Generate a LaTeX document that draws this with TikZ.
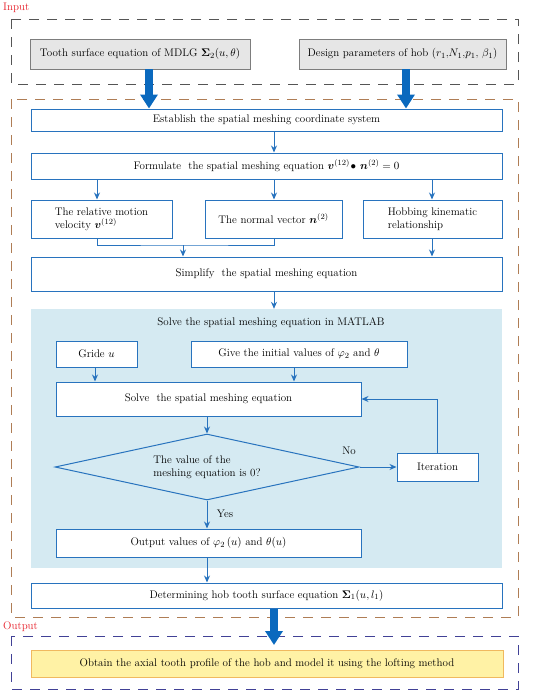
\documentclass[tikz,border=0pt]{standalone}
\usepackage{amsmath,bm}
\usetikzlibrary{arrows.meta,shapes.geometric,calc}
\definecolor{boxblue}{RGB}{40,115,190}
\definecolor{bigblue}{RGB}{10,105,190}
\definecolor{lightbg}{RGB}{213,234,242}
\definecolor{grayfill}{RGB}{230,230,230}
\definecolor{grayline}{RGB}{125,125,125}
\definecolor{inputdash}{RGB}{85,85,85}
\definecolor{browndash}{RGB}{175,125,85}
\definecolor{navydash}{RGB}{65,65,150}
\definecolor{yellowfill}{RGB}{255,242,165}
\definecolor{yellowline}{RGB}{240,185,95}
\definecolor{redlabel}{RGB}{230,30,40}
\newcommand{\mainfs}{\fontsize{11}{13}\selectfont}
\begin{document}
\begin{tikzpicture}[x=1pt,y=-1pt,
  box/.style={draw=boxblue, line width=1pt, fill=white, inner sep=2pt, font=\mainfs},
  graybox/.style={draw=grayline, line width=0.9pt, fill=grayfill, inner sep=2pt, font=\mainfs},
  yellowbox/.style={draw=yellowline, line width=1pt, fill=yellowfill, inner sep=2pt, font=\mainfs},
  dashframe/.style={line width=1pt, dash pattern=on 10pt off 8pt},
  arr/.style={draw=boxblue, line width=1pt, -{Stealth[length=7pt,width=6pt]}},
  plainline/.style={draw=boxblue, line width=1pt},
  bigarrow/.style={draw=bigblue, line width=8pt, -{Triangle[length=14pt,width=17pt]}},
  plaintext/.style={font=\mainfs, inner sep=1pt},
  redtext/.style={font=\mainfs, text=redlabel, inner sep=1pt}
]
\useasboundingbox (0,0) rectangle (550,694);

% frames
\draw[dashframe, draw=inputdash] (11,19) rectangle (518,84);
\draw[dashframe, draw=browndash] (11,99) rectangle (518,617);
\draw[dashframe, draw=navydash] (11,636) rectangle (518,689);
\node[redtext, anchor=west] (inlab) at (2,8) {Input};
\node[redtext, anchor=west] (outlab) at (2,627) {Output};

% light blue region
\node[fill=lightbg, minimum width=471pt, minimum height=259pt, inner sep=0pt] (mbg) at (266.5,438.5) {};

% input boxes
\node[graybox, minimum width=220pt, minimum height=30pt] (tooth) at (140,54)
  {Tooth surface equation of MDLG $\boldsymbol{\Sigma}_2(u,\theta)$};
\node[graybox, minimum width=207pt, minimum height=30pt] (design) at (402.5,54)
  {Design parameters of hob ($r_1$,$N_1$,$p_1$, $\beta_1$)};

% main boxes
\node[box, minimum width=471pt, minimum height=22pt] (establish) at (266.5,120)
  {Establish the spatial meshing coordinate system};
\node[box, minimum width=471pt, minimum height=26pt] (formulate) at (266.5,166)
  {Formulate\ \ the spatial meshing equation $\boldsymbol{v}^{(12)}\!\bullet\,\boldsymbol{n}^{(2)}=0$};
\node[box, minimum width=141pt, minimum height=38pt, align=left] (rel) at (101.5,219)
  {The relative motion\\velocity $\boldsymbol{v}^{(12)}$};
\node[box, minimum width=137pt, minimum height=38pt] (normal) at (273.5,219)
  {The normal vector $\boldsymbol{n}^{(2)}$};
\node[box, minimum width=139pt, minimum height=38pt, align=left] (hob) at (432.5,219)
  {Hobbing kinematic\\relationship};
\node[box, minimum width=471pt, minimum height=34pt] (simplify) at (266.5,274)
  {Simplify\ \ the spatial meshing equation};

% MATLAB region
\node[plaintext] (mtitle) at (271,323) {Solve the spatial meshing equation in MATLAB};
\node[box, minimum width=81pt, minimum height=26pt] (gride) at (96.5,354) {Gride $u$};
\node[box, minimum width=216pt, minimum height=26pt] (give) at (299,354)
  {Give the initial values of $\varphi_2$ and $\theta$};
\node[box, minimum width=305pt, minimum height=34pt] (solve) at (208.5,399)
  {Solve\ \ the spatial meshing equation};
\node[diamond, draw=boxblue, line width=1pt, aspect=4.6, minimum width=304pt, minimum height=66pt,
  inner sep=0pt, align=left, font=\mainfs] (check) at (207,467)
  {The value of the\\meshing equation is 0?};
\node[box, minimum width=81pt, minimum height=28pt] (iter) at (437.5,467) {Iteration};
\node[box, minimum width=305pt, minimum height=28pt] (outv) at (208.5,543)
  {Output values of $\varphi_2\,(u)$ and $\theta(u)$};
\node[plaintext] (nolab) at (349,451) {No};
\node[plaintext] (yeslab) at (225,514) {Yes};

\node[box, minimum width=471pt, minimum height=25pt] (determ) at (266.5,595.5)
  {Determining hob tooth surface equation $\boldsymbol{\Sigma}_1(u,l_1)$};
\node[yellowbox, minimum width=472pt, minimum height=27pt] (obtain) at (267,663.5)
  {Obtain the axial tooth profile of the hob and model it using the lofting method};

% x positions
\coordinate (xa) at (149,0);
\coordinate (xb) at (406,0);
\coordinate (xc) at (274,0);
\coordinate (xl) at (97,0);
\coordinate (xr) at (432,0);
\coordinate (xj) at (183,0);
\coordinate (xg) at (95,0);
\coordinate (xi) at (294,0);
\coordinate (xs) at (207,0);
\coordinate (join) at (183,245);
\coordinate (outtip) at (274,645);

% big arrows
\draw[bigarrow] (tooth.south -| xa) -- (establish.north -| xa);
\draw[bigarrow] (design.south -| xb) -- (establish.north -| xb);
\draw[bigarrow] (determ.south -| xc) -- (outtip);

% thin arrows
\draw[arr] (establish.south -| xc) -- (formulate.north -| xc);
\draw[arr] (formulate.south -| xl) -- (rel.north -| xl);
\draw[arr] (formulate.south -| xc) -- (normal.north -| xc);
\draw[arr] (formulate.south -| xr) -- (hob.north -| xr);
\draw[plainline] (rel.south -| xl) |- (join) -| (normal.south -| xc);
\draw[arr] (join) -- (simplify.north -| xj);
\draw[arr] (hob.south -| xr) -- (simplify.north -| xr);
\draw[arr] (simplify.south -| xc) -- (mbg.north -| xc);
\draw[arr] (gride.south -| xg) -- (solve.north -| xg);
\draw[arr] (give.south -| xi) -- (solve.north -| xi);
\draw[arr] (solve.south -| xs) -- (check.north);
\draw[arr] (check.east) -- (iter.west);
\draw[arr] (iter.north) |- (solve.east);
\draw[arr] (check.south) -- (outv.north -| check.south);
\draw[arr] (outv.south -| xs) -- (determ.north -| xs);
\end{tikzpicture}
\end{document}
